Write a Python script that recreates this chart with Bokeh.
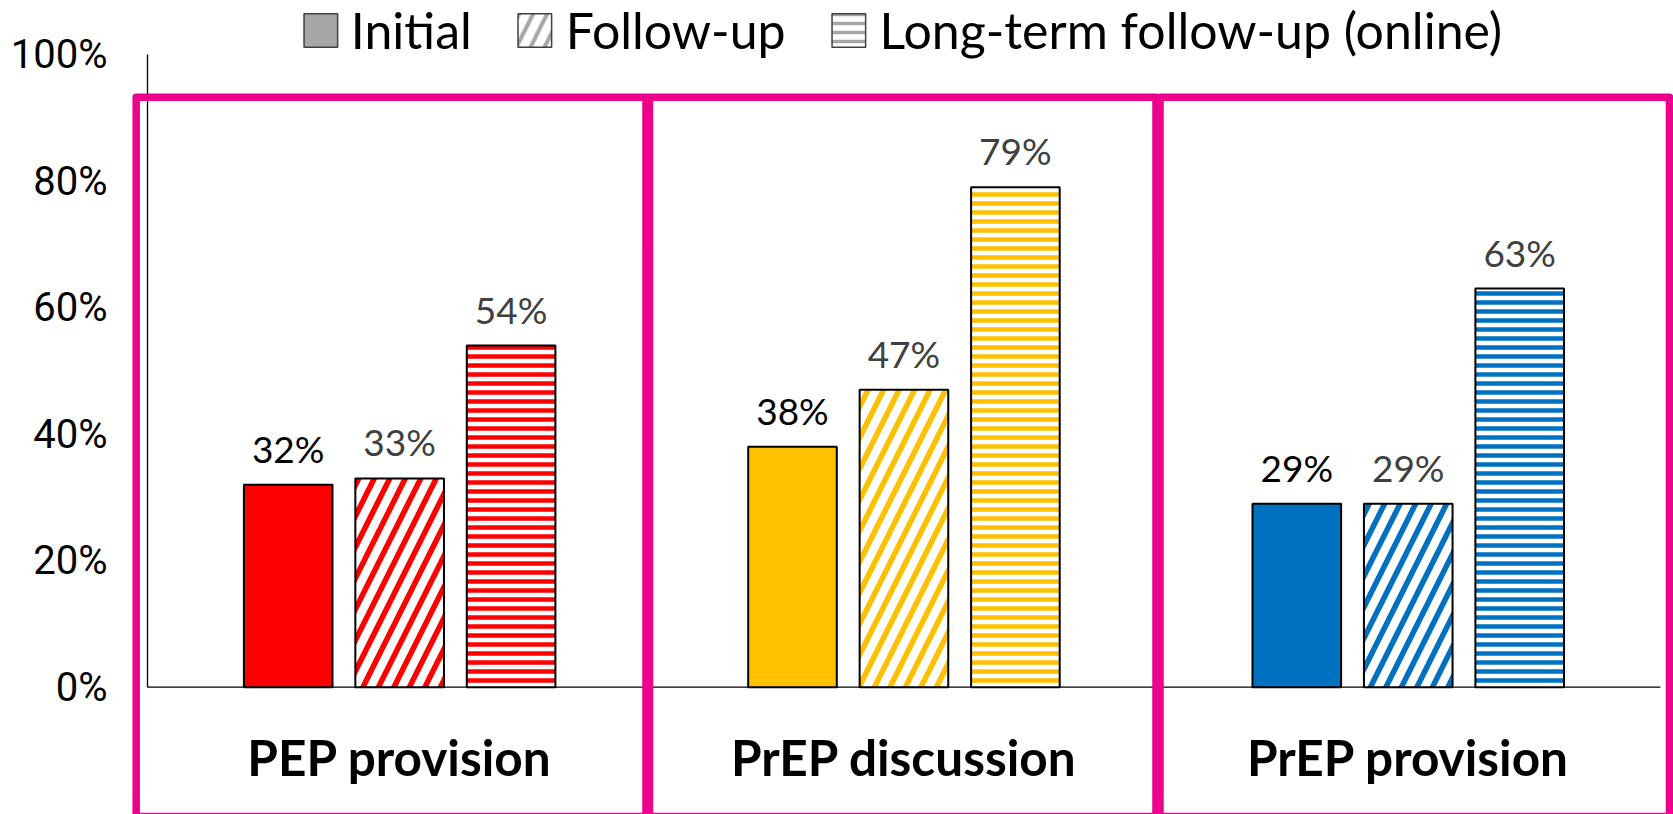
import numpy as np
from bokeh.plotting import figure
from bokeh.models import (ColumnDataSource, Range1d, FixedTicker, NumeralTickFormatter,
                          LabelSet, Legend, LegendItem)
from bokeh.core.properties import value
from bokeh.embed import file_html
from bokeh.resources import INLINE

# ---------------- data ----------------
categories = ["PEP provision", "PrEP discussion", "PrEP provision"]
series_names = ["Initial", "Follow-up", "Long-term follow-up (online)"]
initial = [0.32, 0.38, 0.29]
follow_up = [0.33, 0.47, 0.29]
long_term = [0.54, 0.79, 0.63]
category_colors = ["#FF0000", "#FFC000", "#0070C0"]
y_ticks = [0, 0.2, 0.4, 0.6, 0.8, 1.0]

# ---------------- layout constants ----------------
OFFSETS = [-0.221, 0.0, 0.221]
BAR_W = 0.1757
LABEL_Y = -0.11
PINK = "#EC008C"
BOX_LEFT = [-0.0224, 0.9954, 2.0077]
BOX_RIGHT = [0.9885, 1.9998, 3.018]
BOX_TOP = 0.9325
BOX_BOTTOM = -0.2044
FONT = "Lato"

centers = np.arange(len(categories)) + 0.5

p = figure(width=1673, height=814,
           x_range=Range1d(-0.037676, 3.02598), y_range=Range1d(-0.20120, 1.08535),
           output_backend="svg", toolbar_location=None,
           x_axis_location=None, y_axis_location="left",
           min_border_left=128, min_border_right=0, min_border_top=0, min_border_bottom=0,
           outline_line_color=None, background_fill_color="white", border_fill_color="white")
p.grid.visible = False

yax = p.yaxis[0]
yax.ticker = FixedTicker(ticks=y_ticks)
yax.bounds = (0, 1)
yax.formatter = NumeralTickFormatter(format="0%")
yax.axis_line_color = None
yax.major_tick_line_color = None
yax.minor_tick_line_color = None
yax.major_tick_out = 0
yax.major_tick_in = 0
yax.major_label_standoff = 21
yax.major_label_text_font = "Roboto"
yax.major_label_text_font_size = "40px"
yax.major_label_text_color = "#000000"

# axis lines
p.segment(x0=[0], y0=[0], x1=[0], y1=[y_ticks[-1]], line_color="#000000", line_width=1.3)
p.segment(x0=[0], y0=[0], x1=[len(categories)], y1=[0], line_color="#000000", line_width=1.3)

series_values = [initial, follow_up, long_term]
styles = [
    dict(fill_color="color"),
    dict(fill_color="white", hatch_pattern="right_diagonal_line", hatch_color="color",
         hatch_scale=31, hatch_weight=5.5),
    dict(fill_color="white", hatch_pattern="horizontal_line", hatch_color="color",
         hatch_scale=9, hatch_weight=4.5),
]
label_colors = ["#000000", "#404040", "#404040"]

for vals, off, st, lc in zip(series_values, OFFSETS, styles, label_colors):
    src = ColumnDataSource(dict(
        x=centers + off, top=vals, color=category_colors,
        label=[f"{round(v * 100)}%" for v in vals]))
    p.vbar(x="x", top="top", width=BAR_W, bottom=0, source=src,
           line_color="#000000", line_width=2, **st)
    p.add_layout(LabelSet(x="x", y="top", text="label", source=src,
                          text_align="center", text_baseline="alphabetic", y_offset=22,
                          text_font=value(FONT), text_font_size="37px", text_color=lc))

# category labels
p.text(x=centers, y=[LABEL_Y] * len(categories), text=categories,
       text_font=value(FONT), text_font_style="bold", text_font_size="49.5px",
       text_align="center", text_baseline="alphabetic", text_color="#000000")

# pink boxes
p.quad(left=BOX_LEFT, right=BOX_RIGHT, top=[BOX_TOP] * 3, bottom=[BOX_BOTTOM] * 3,
       fill_color=None, line_color=PINK, line_width=7.5, line_join="round")

# legend (gray swatches, not drawn in the plot area)
gray = "#A6A6A6"
nan_src = dict(x=[np.nan], top=[np.nan])
r1 = p.vbar(x=nan_src["x"], top=nan_src["top"], width=0.1, fill_color=gray,
            line_color="#404040", line_width=1.5)
r2 = p.vbar(x=nan_src["x"], top=nan_src["top"], width=0.1, fill_color="white",
            hatch_pattern="right_diagonal_line", hatch_color=gray, hatch_scale=28, hatch_weight=4,
            line_color="#404040", line_width=1.5)
r3 = p.vbar(x=nan_src["x"], top=nan_src["top"], width=0.1, fill_color="white",
            hatch_pattern="horizontal_line", hatch_color=gray, hatch_scale=9, hatch_weight=3.5,
            line_color="#404040", line_width=1.5)
legend = Legend(items=[LegendItem(label=n, renderers=[r]) for n, r in zip(series_names, [r1, r2, r3])],
                orientation="horizontal", location="top_center",
                glyph_width=42, glyph_height=42, label_standoff=10, spacing=42,
                padding=0, margin=0, border_line_color=None, background_fill_alpha=0,
                label_text_font=FONT, label_text_font_size="50px", label_text_color="#000000")
p.add_layout(legend)

open("out.html", "w").write(file_html(p, INLINE))
